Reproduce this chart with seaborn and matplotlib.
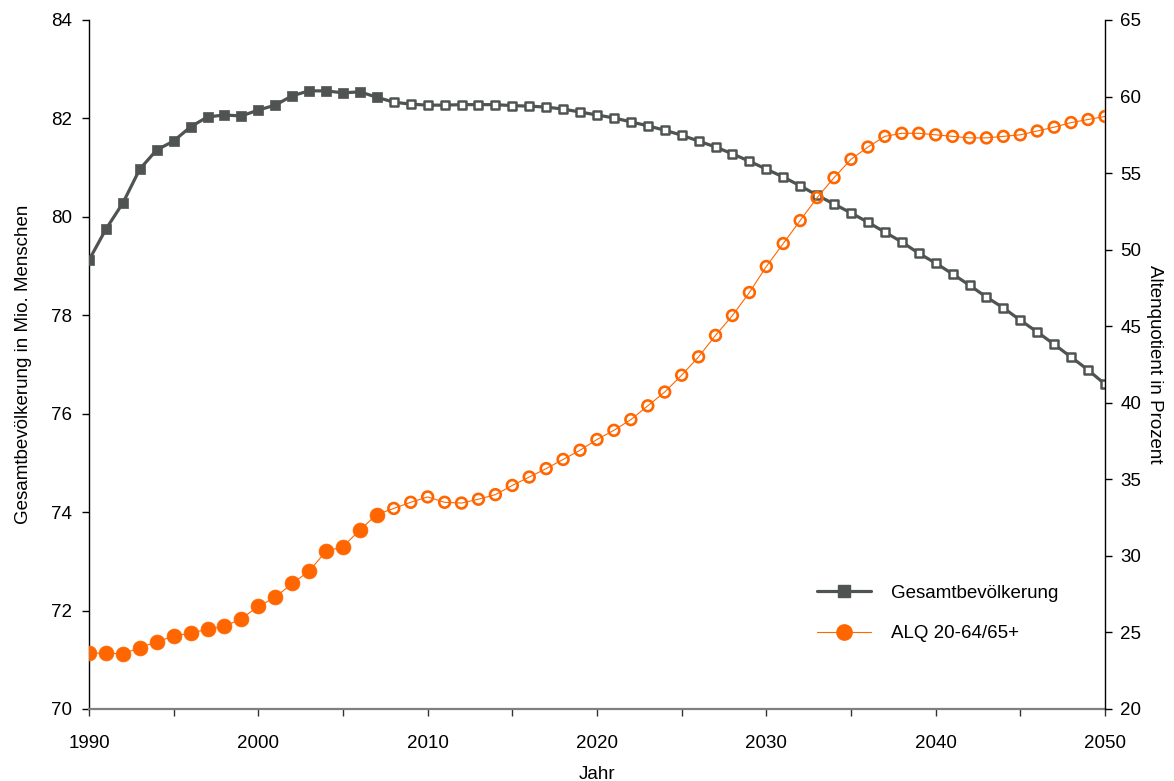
import numpy as np
import pandas as pd
import matplotlib
matplotlib.use("Agg")
import matplotlib.pyplot as plt
from matplotlib.lines import Line2D
from matplotlib.ticker import MultipleLocator
import seaborn as sns

# Jahre 1990-2050, ab 2008 Vorausberechnung (hohle Marker)
years = list(range(1990, 2051))
last_observed = 2007

# Gesamtbevoelkerung in Mio.
population = [
    79.12, 79.75, 80.28, 80.97, 81.36, 81.54, 81.83, 82.03, 82.07, 82.05,
    82.17, 82.27, 82.46, 82.56, 82.56, 82.52, 82.54, 82.43, 82.33, 82.29,
    82.27, 82.27, 82.28, 82.28, 82.28, 82.26, 82.25, 82.23, 82.19, 82.13,
    82.07, 82.01, 81.93, 81.85, 81.76, 81.66, 81.54, 81.42, 81.28, 81.13,
    80.97, 80.81, 80.63, 80.44, 80.26, 80.08, 79.89, 79.69, 79.49, 79.26,
    79.06, 78.84, 78.61, 78.37, 78.15, 77.90, 77.66, 77.41, 77.15, 76.89,
    76.60,
]

# Altenquotient 20-64/65+ in Prozent
alq = [
    23.65, 23.65, 23.60, 24.00, 24.40, 24.75, 24.96, 25.20, 25.40, 25.90,
    26.70, 27.30, 28.20, 29.00, 30.30, 30.60, 31.70, 32.70, 33.10, 33.50,
    33.85, 33.50, 33.45, 33.70, 34.00, 34.60, 35.15, 35.70, 36.30, 36.90,
    37.60, 38.20, 38.90, 39.80, 40.70, 41.80, 43.00, 44.40, 45.70, 47.20,
    48.90, 50.40, 51.90, 53.40, 54.70, 55.90, 56.70, 57.40, 57.60, 57.60,
    57.50, 57.40, 57.30, 57.30, 57.40, 57.50, 57.75, 58.00, 58.30, 58.50,
    58.70,
]

gray = "#4f5453"
orange = "#ff6600"

df = pd.DataFrame({"Jahr": years, "pop": population, "alq": alq})
df["observed"] = df["Jahr"] <= last_observed
obs = df[df["observed"]]
proj = df[~df["observed"]]

sns.set_theme(style="white")
plt.rcParams["font.family"] = ["Liberation Sans", "DejaVu Sans"]
plt.rcParams["font.size"] = 13.5
for key in ("text.color", "axes.labelcolor", "xtick.color", "ytick.color"):
    plt.rcParams[key] = "black"

fig = plt.figure(figsize=(11.74, 7.81), dpi=100)
ax = fig.add_axes([0.0758, 0.0922, 0.8654, 0.8822])
ax2 = ax.twinx()

# Gesamtbevoelkerung (linke Achse)
sns.lineplot(data=df, x="Jahr", y="pop", ax=ax, color=gray, linewidth=2.3, zorder=2)
sns.scatterplot(data=obs, x="Jahr", y="pop", ax=ax, marker="s", s=62,
                color=gray, edgecolor=gray, linewidth=0.5, zorder=3)
sns.scatterplot(data=proj, x="Jahr", y="pop", ax=ax, marker="s", s=40,
                facecolor="white", edgecolor=gray, linewidth=1.8, zorder=3)

# Altenquotient (rechte Achse)
sns.lineplot(data=df, x="Jahr", y="alq", ax=ax2, color=orange, linewidth=0.8, zorder=2)
sns.scatterplot(data=obs, x="Jahr", y="alq", ax=ax2, marker="o", s=115,
                color=orange, edgecolor=orange, linewidth=0.5, zorder=3)
sns.scatterplot(data=proj, x="Jahr", y="alq", ax=ax2, marker="o", s=60,
                facecolor="none", edgecolor=orange, linewidth=1.9, zorder=3)

ax.set_xlim(1990, 2050)
ax.set_ylim(70, 84)
ax2.set_ylim(20, 65)

ax.xaxis.set_major_locator(MultipleLocator(10))
ax.xaxis.set_minor_locator(MultipleLocator(5))
ax.yaxis.set_major_locator(MultipleLocator(2))
ax2.yaxis.set_major_locator(MultipleLocator(5))

ax.set_xlabel("Jahr", fontsize=13.5, labelpad=10)
ax.set_ylabel("Gesamtbevölkerung in Mio. Menschen", fontsize=13.5, labelpad=14)
ax2.set_ylabel("Altenquotient in Prozent", fontsize=13.5, rotation=270, labelpad=16)

for a in (ax, ax2):
    a.spines["top"].set_visible(False)
    a.grid(False)
ax.spines["left"].set_color("black")
ax.spines["left"].set_linewidth(1.0)
ax.spines["bottom"].set_color("#7f7f7f")
ax.spines["bottom"].set_linewidth(1.6)
ax.spines["right"].set_visible(False)
ax2.spines["left"].set_visible(False)
ax2.spines["bottom"].set_visible(False)
ax2.spines["right"].set_color("black")
ax2.spines["right"].set_linewidth(1.0)

ax.tick_params(axis="x", which="both", direction="out", length=5, width=1,
               color="#333333", pad=14, labelsize=13.5, bottom=True)
ax.tick_params(axis="y", direction="out", length=5, width=1, color="black",
               pad=7, labelsize=13.5, left=True)
ax2.tick_params(axis="y", direction="out", length=5, width=1, color="black",
                pad=6, labelsize=13.5, right=True)

handles = [
    Line2D([0], [0], color=gray, linewidth=2.3, marker="s", markersize=8,
           markerfacecolor=gray, markeredgecolor=gray),
    Line2D([0], [0], color=orange, linewidth=0.8, marker="o", markersize=11,
           markerfacecolor=orange, markeredgecolor=orange),
]
ax2.legend(handles, ["Gesamtbevölkerung", "ALQ 20-64/65+"], loc="center left",
           bbox_to_anchor=(0.7165, 0.139), frameon=False, fontsize=13.5,
           handlelength=2.9, handletextpad=1.05, labelspacing=1.25,
           borderpad=0, borderaxespad=0)

fig.savefig("out.png", dpi=100)
